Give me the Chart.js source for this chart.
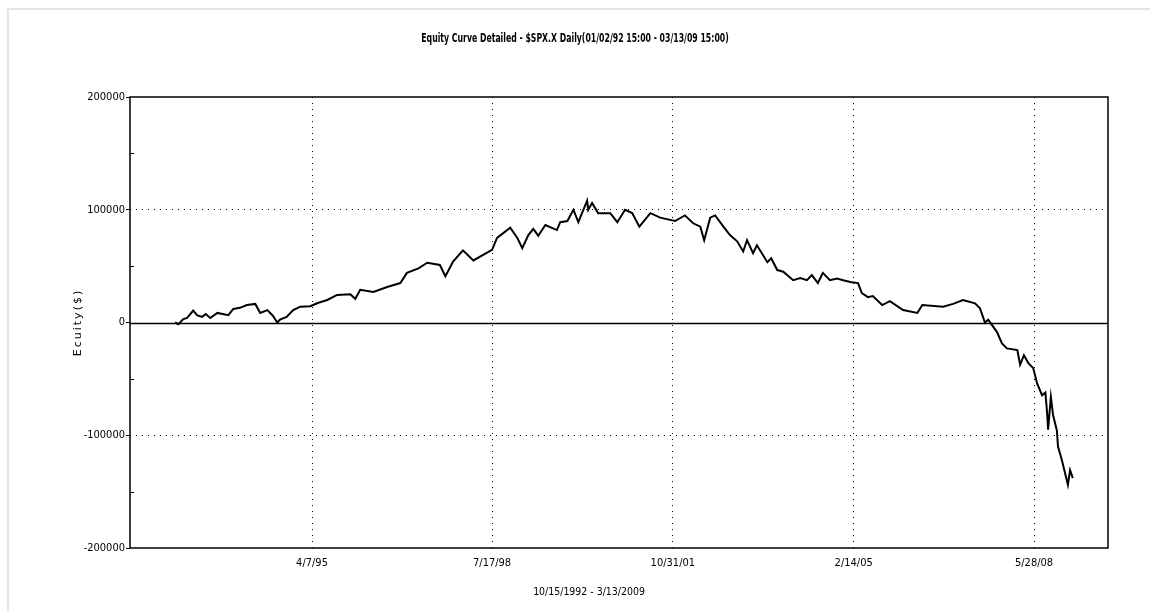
<!DOCTYPE html>
<html>
<head>
    <title>Equity Curve Detailed</title>
    <style>
        body {
            margin: 0;
            background: #fff;
        }
        #wrap {
            position: relative;
            width: 1150px;
            height: 612px;
        }
        #frame {
            position: absolute;
            left: 7px;
            top: 8px;
            right: 0;
            bottom: 0;
            border-left: 2px solid #e4e4e4;
            border-top: 2px solid #e4e4e4;
            pointer-events: none;
        }
    </style>
</head>
<body>
    <div id="wrap">
        <canvas id="chart"></canvas>
        <div id="frame"></div>
    </div>

    <script src="https://cdn.jsdelivr.net/npm/chart.js"></script>
    <script>
        var chartTitle = 'Equity Curve Detailed - $SPX.X Daily(01/02/92 15:00 - 03/13/09 15:00)';
        var xTitle = '10/15/1992 - 3/13/2009';
        var yTitle = 'Ecuity($)';

        // dates as decimal years, equity in dollars
        var years = [
            1992.77, 1992.83, 1992.92, 1992.99, 1993.10, 1993.17, 1993.26, 1993.33, 1993.41, 1993.54,
            1993.74, 1993.83, 1993.95, 1994.08, 1994.23, 1994.32, 1994.45, 1994.55, 1994.63, 1994.68,
            1994.80, 1994.92, 1995.05, 1995.23, 1995.38, 1995.54, 1995.72, 1995.96, 1996.05, 1996.14,
            1996.38, 1996.63, 1996.87, 1996.99, 1997.20, 1997.36, 1997.59, 1997.69, 1997.83, 1998.01,
            1998.20, 1998.45, 1998.54, 1998.63, 1998.87, 1999.00, 1999.09, 1999.20, 1999.29, 1999.38,
            1999.51, 1999.72, 1999.78, 1999.91, 2000.02, 2000.11, 2000.27, 2000.29, 2000.36, 2000.47,
            2000.69, 2000.82, 2000.96, 2001.09, 2001.22, 2001.42, 2001.60, 2001.78, 2001.87, 2002.05,
            2002.20, 2002.33, 2002.40, 2002.51, 2002.60, 2002.75, 2002.87, 2003.00, 2003.11, 2003.18,
            2003.29, 2003.36, 2003.45, 2003.55, 2003.62, 2003.73, 2003.84, 2004.02, 2004.15, 2004.27,
            2004.36, 2004.47, 2004.56, 2004.69, 2004.82, 2004.93, 2005.06, 2005.20, 2005.27, 2005.38,
            2005.47, 2005.64, 2005.78, 2006.02, 2006.28, 2006.37, 2006.75, 2006.93, 2007.11, 2007.33,
            2007.42, 2007.51, 2007.57, 2007.73, 2007.82, 2007.91, 2008.10, 2008.15, 2008.22, 2008.30,
            2008.39, 2008.46, 2008.55, 2008.61, 2008.64, 2008.66, 2008.71, 2008.75, 2008.82, 2008.84,
            2008.91, 2008.97, 2009.02, 2009.06, 2009.11
        ];
        var equity = [
            0, -1500, 3000, 4000, 10500, 6500, 5000, 7500, 4000, 8500,
            6500, 12000, 13000, 15500, 16500, 8500, 11000, 6000, 0, 2500,
            5000, 11000, 14000, 14500, 17500, 20000, 24500, 25000, 21000, 29000,
            27000, 31500, 35000, 44000, 48000, 53000, 51000, 41000, 54000, 64000,
            55000, 62000, 64500, 75000, 84000, 75000, 66000, 77500, 83000, 77000,
            86500, 82000, 89000, 90000, 100000, 89000, 108000, 100000, 106000, 97000,
            97000, 89000, 100000, 97000, 85000, 97000, 93000, 91000, 90000, 95000,
            88000, 85000, 73000, 93000, 95000, 85000, 77500, 72000, 63000, 73000,
            61500, 68500, 61500, 53500, 57000, 46500, 45000, 37500, 39500, 37500,
            42000, 35000, 44000, 37500, 39000, 37500, 36000, 35000, 26000, 22500,
            23500, 15500, 19000, 11000, 8500, 15500, 14000, 16500, 20000, 17000,
            12500, 0, 2500, -8500, -18500, -23000, -24500, -37500, -29000, -36000,
            -40500, -54000, -64500, -62000, -79000, -95000, -66000, -82000, -96000, -110000,
            -122000, -134000, -144000, -131000, -138000
        ];

        // x axis tick dates (decimal years) and their labels
        var tickYears = [1995.263, 1998.540, 2001.830, 2005.121, 2008.404];
        var tickLabels = ['4/7/95', '7/17/98', '10/31/01', '2/14/05', '5/28/08'];

        var narrow = "'DejaVu Sans Condensed', 'Liberation Sans', sans-serif";

        var points = years.map(function (y, i) {
            return { x: y, y: equity[i] };
        });

        // squeezed text, like the narrow font of the original
        function squeezed(ctx, text, x, y, font, sx) {
            ctx.save();
            ctx.font = font;
            ctx.fillStyle = '#000';
            ctx.textAlign = 'center';
            ctx.textBaseline = 'middle';
            ctx.translate(x, y);
            ctx.scale(sx, 1);
            ctx.fillText(text, 0, 0);
            ctx.restore();
        }

        // frame, zero line, minor ticks and titles
        var extras = {
            id: 'extras',
            beforeDatasetsDraw: function (chart) {
                var ctx = chart.ctx;
                var a = chart.chartArea;
                var ys = chart.scales.y;
                ctx.save();
                ctx.strokeStyle = '#000';
                ctx.lineWidth = 1.5;
                var z = Math.round(ys.getPixelForValue(0)) + 0.5;
                ctx.beginPath();
                ctx.moveTo(a.left, z);
                ctx.lineTo(a.right, z);
                ctx.stroke();
                ctx.lineWidth = 1;
                [-150000, -50000, 50000, 150000].forEach(function (v) {
                    var p = Math.round(ys.getPixelForValue(v)) + 0.5;
                    ctx.beginPath();
                    ctx.moveTo(a.left, p);
                    ctx.lineTo(a.left + 4, p);
                    ctx.stroke();
                });
                ctx.restore();
            },
            afterDraw: function (chart) {
                var ctx = chart.ctx;
                var a = chart.chartArea;
                ctx.save();
                ctx.strokeStyle = '#000';
                ctx.lineWidth = 1.5;
                ctx.strokeRect(a.left, a.top, a.right - a.left, a.bottom - a.top);
                ctx.restore();

                squeezed(ctx, chartTitle, 575, 39, 'bold 12px ' + narrow, 0.72);
                squeezed(ctx, xTitle, 589, 592, '11px ' + narrow, 0.95);

                ctx.save();
                ctx.fillStyle = '#000';
                ctx.textAlign = 'center';
                ctx.textBaseline = 'middle';
                ctx.translate(78, (a.top + a.bottom) / 2);
                ctx.rotate(-Math.PI / 2);
                ctx.font = "11px 'DejaVu Sans', sans-serif";
                ctx.letterSpacing = '2px';
                ctx.fillText(yTitle, 0, 0);
                ctx.restore();
            }
        };

        var ctx = document.getElementById('chart').getContext('2d');
        new Chart(ctx, {
            type: 'line',
            data: {
                datasets: [{
                    label: 'Equity',
                    data: points,
                    borderColor: '#000',
                    borderWidth: 2,
                    pointRadius: 0,
                    tension: 0,
                    fill: false
                }]
            },
            options: {
                responsive: true,
                maintainAspectRatio: false,
                animation: false,
                layout: {
                    padding: { left: 0, right: 42, top: 97, bottom: 0 }
                },
                plugins: {
                    legend: { display: false },
                    tooltip: { enabled: false },
                    title: { display: false }
                },
                scales: {
                    x: {
                        type: 'linear',
                        min: 1991.95,
                        max: 2009.75,
                        afterBuildTicks: function (scale) {
                            scale.ticks = tickYears.map(function (v) { return { value: v }; });
                        },
                        afterFit: function (scale) {
                            scale.height = 64;
                        },
                        ticks: {
                            color: '#000',
                            font: { family: narrow, size: 11 },
                            padding: 9,
                            maxRotation: 0,
                            autoSkip: false,
                            callback: function (value, index) {
                                return tickLabels[index];
                            }
                        },
                        grid: {
                            color: '#000',
                            lineWidth: 1,
                            drawTicks: false
                        },
                        border: { display: false, dash: [1, 5] }
                    },
                    y: {
                        min: -200000,
                        max: 200000,
                        afterFit: function (scale) {
                            scale.width = 130;
                        },
                        ticks: {
                            stepSize: 50000,
                            color: '#000',
                            font: { family: narrow, size: 11 },
                            padding: 1,
                            callback: function (value) {
                                return value % 100000 === 0 ? String(value) : '';
                            }
                        },
                        grid: {
                            lineWidth: 1,
                            tickLength: 4,
                            color: function (c) {
                                var v = c.tick ? c.tick.value : null;
                                return (v === 100000 || v === -100000) ? '#000' : 'rgba(0,0,0,0)';
                            },
                            tickColor: function (c) {
                                var v = c.tick ? c.tick.value : null;
                                return (v !== null && v % 100000 === 0) ? '#000' : 'rgba(0,0,0,0)';
                            }
                        },
                        border: { display: false, dash: [1, 5] }
                    }
                }
            },
            plugins: [extras]
        });
    </script>
</body>
</html>
